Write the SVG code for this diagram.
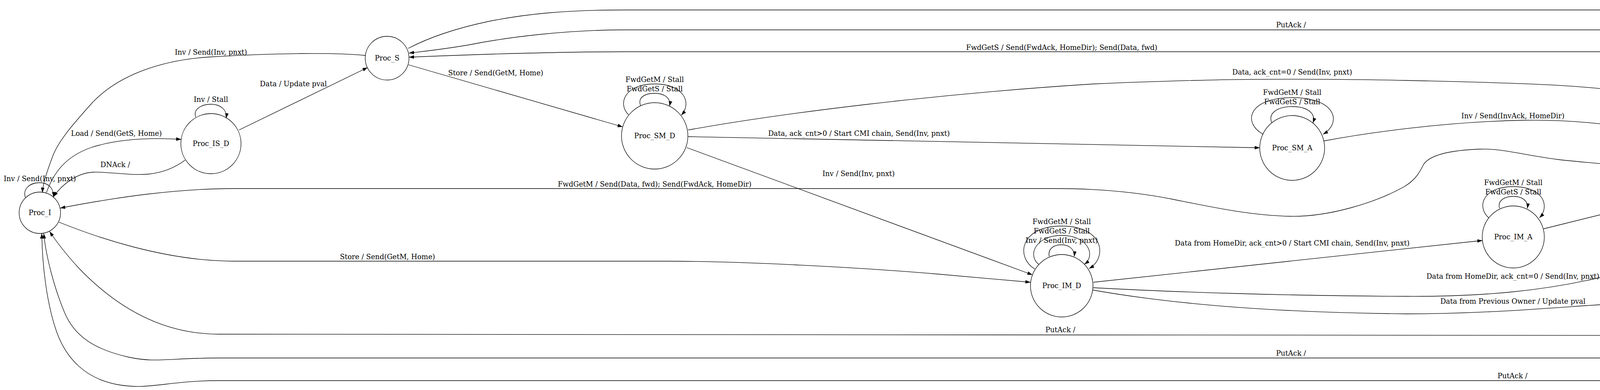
<svg xmlns="http://www.w3.org/2000/svg" width="7164" height="999" viewBox="0 0 7164 999">
<style>
.node circle{fill:none;stroke:#000;stroke-width:1.3}
.edge path{fill:none;stroke:#000;stroke-width:1.3;marker-end:url(#ah)}
text{font-family:"DejaVu Serif","Liberation Serif",serif;font-size:18px;fill:#000;text-anchor:middle}
</style>
<defs>
<marker id="ah" markerUnits="userSpaceOnUse" markerWidth="14" markerHeight="10" viewBox="0 0 14 10" refX="13" refY="4.5" orient="auto"><path d="M0,0 L13,4.5 L0,9 z" fill="#000"/></marker>
</defs>
<rect x="0" y="0" width="7164" height="999" fill="#fff"/>
<g id="nodes">
<g id="Proc_I" class="node"><circle cx="102" cy="545" r="53"/><text x="102" y="551">Proc_I</text></g>
<g id="Proc_IS_D" class="node"><circle cx="540" cy="368" r="77"/><text x="540" y="374">Proc_IS_D</text></g>
<g id="Proc_S" class="node"><circle cx="991" cy="149" r="56"/><text x="991" y="155">Proc_S</text></g>
<g id="Proc_SM_D" class="node"><circle cx="1676" cy="348" r="85"/><text x="1676" y="354">Proc_SM_D</text></g>
<g id="Proc_SM_A" class="node"><circle cx="3308" cy="379" r="83"/><text x="3308" y="385">Proc_SM_A</text></g>
<g id="Proc_IM_D" class="node"><circle cx="2718" cy="732" r="80"/><text x="2718" y="738">Proc_IM_D</text></g>
<g id="Proc_IM_A" class="node"><circle cx="3874" cy="607" r="79.5"/><text x="3874" y="613">Proc_IM_A</text></g>
<g id="Proc_M" class="node"><circle cx="4486" cy="453" r="60"/><text x="4486" y="459">Proc_M</text></g>
<g id="Proc_MS_A" class="node"><circle cx="5080" cy="453" r="83"/><text x="5080" y="459">Proc_MS_A</text></g>
<g id="Proc_MI_A" class="node"><circle cx="5599" cy="601" r="79.5"/><text x="5599" y="607">Proc_MI_A</text></g>
<g id="Proc_SI_A" class="node"><circle cx="6492" cy="601" r="75"/><text x="6492" y="607">Proc_SI_A</text></g>
<g id="Proc_II_A" class="node"><circle cx="7062" cy="721" r="72"/><text x="7062" y="727">Proc_II_A</text></g>
</g>
<g id="connectors">
<g class="edge" id="e_I_I"><path d="M65,506 C58,485 75,468 101,468 C124,468 138,482 137,505"/><text x="102" y="464">Inv / Send(Inv, pnxt)</text></g>
<g class="edge" id="e_I_ISD"><path d="M119,493 C138,440 170,400 233,378 C300,356 380,352 464,357"/><text x="298" y="348">Load / Send(GetS, Home)</text></g>
<g class="edge" id="e_ISD_I"><path d="M474,410 C450,428 420,442 380,446 C330,450 280,440 240,441 C200,442 160,470 137,504"/><text x="295" y="428">DNAck /</text></g>
<g class="edge" id="e_ISD_ISD"><path d="M501,300 C494,280 515,267 540,267 C565,267 582,282 579,303"/><text x="540" y="261">Inv / Stall</text></g>
<g class="edge" id="e_ISD_S"><path d="M612,333 L941,173"/><text x="751" y="221">Data / Update pval</text></g>
<g class="edge" id="e_S_I"><path d="M935,142 C860,134 700,136 536,146 C420,153 300,190 230,270 C190,315 150,360 135,400 C120,440 110,470 108.5,493.5"/><text x="540" y="140">Inv / Send(Inv, pnxt)</text></g>
<g class="edge" id="e_S_SMD"><path d="M1046,166 L1594,325"/><text x="1269" y="193">Store / Send(GetM, Home)</text></g>
<g class="edge" id="e_S_SIA"><path d="M1045,124 C1100,95 1170,72 1250,55 C1350,35 1450,25.5 1600,25.5 L5611,25.5 C5800,25.5 5990,110 6150,255 C6280,375 6380,480 6442,540"/><text x="4264" y="19.5">Evict / Send(PutS, Home)</text></g>
<g class="edge" id="e_MSA_S"><path d="M5027,388 C4960,320 4830,200 4720,135 C4640,92 4580,76.5 4503,76.5 L1600,76.5 C1450,76.5 1300,95 1200,115 C1130,127 1080,132 1047,136"/><text x="3305" y="70">PutAck /</text></g>
<g class="edge" id="e_M_S"><path d="M4473,393 C4455,340 4400,240 4330,190 C4260,145 4200,132.5 4136,132.5 L1600,132.5 C1400,133 1200,140 1047,146.5"/><text x="2718" y="127.5">FwdGetS / Send(FwdAck, HomeDir); Send(Data, fwd)</text></g>
<g class="edge" id="e_SMD_M"><path d="M1762,333 C2000,290 2400,240 2800,215 C3100,202 3300,200 3600,206 C3850,212 4100,215 4250,250 C4350,280 4420,340 4459,397"/><text x="3308" y="191">Data, ack_cnt=0 / Send(Inv, pnxt)</text></g>
<g class="edge" id="e_SMD_SMA"><path d="M1762,350 L3225,378.5"/><text x="2199" y="348">Data, ack_cnt&gt;0 / Start CMI chain, Send(Inv, pnxt)</text></g>
<g class="edge" id="e_SMD_IMD"><path d="M1758,378 L2643,704"/><text x="2198" y="451">Inv / Send(Inv, pnxt)</text></g>
<g class="edge" id="e_SMD_SMD_1"><path d="M1609,294 C1580,265 1600,215 1676,215 C1752,215 1772,265 1744,295"/><text x="1676" y="210">FwdGetM / Stall</text></g>
<g class="edge" id="e_SMD_SMD_2"><path d="M1640,271 C1632,250 1650,239 1676,239 C1702,239 1718,252 1714,272"/><text x="1676" y="233.5">FwdGetS / Stall</text></g>
<g class="edge" id="e_SMA_SMA_1"><path d="M3234,344 C3180,315 3195,250 3308,250 C3421,250 3436,315 3387,344"/><text x="3308" y="243">FwdGetM / Stall</text></g>
<g class="edge" id="e_SMA_SMA_2"><path d="M3256,315 C3245,290 3270,273 3308,273 C3346,273 3370,290 3361,315"/><text x="3308" y="267">FwdGetS / Stall</text></g>
<g class="edge" id="e_SMA_M"><path d="M3389,361 C3500,340 3700,312 3900,308 C4100,305 4300,340 4443,407"/><text x="3873" y="303">Inv / Send(InvAck, HomeDir)</text></g>
<g class="edge" id="e_M_I"><path d="M4426,448 C4250,432 4150,425 4000,410 C3900,398 3850,380 3790,382 C3700,385 3660,400 3645,420 C3635,440 3625,460 3595,478 C3520,520 3400,556 3303,554 C3200,552 3100,530 3000,510 C2900,490 2800,483 2700,483 L600,483 C450,483 300,505 154,533"/><text x="1676" y="477.5">FwdGetM / Send(Data, fwd); Send(FwdAck, HomeDir)</text></g>
<g class="edge" id="e_I_IMD"><path d="M151,569 C240,605 420,669 600,669 L1700,669 C1900,669 2200,685 2400,702 C2500,711 2580,718 2638,723"/><text x="992" y="663.5">Store / Send(GetM, Home)</text></g>
<g class="edge" id="e_IMD_IMD_1"><path d="M2649,689 C2600,660 2610,579 2718,579 C2826,579 2836,660 2788,688"/><text x="2718" y="573.5">FwdGetM / Stall</text></g>
<g class="edge" id="e_IMD_IMD_2"><path d="M2659,677 C2630,655 2650,603 2718,603 C2786,603 2806,655 2776,677"/><text x="2718" y="598">FwdGetS / Stall</text></g>
<g class="edge" id="e_IMD_IMD_3"><path d="M2686,657 C2682,637 2698,627 2717,627 C2738,627 2752,640 2750,657"/><text x="2718" y="622">Inv / Send(Inv, pnxt)</text></g>
<g class="edge" id="e_IMD_IMA"><path d="M2799,723 L3795,616"/><text x="3308" y="629">Data from HomeDir, ack_cnt&gt;0 / Start CMI chain, Send(Inv, pnxt)</text></g>
<g class="edge" id="e_IMD_M_1"><path d="M2799,737 C3000,748 3300,758 3600,759 C3800,760 3950,745 4100,710 C4250,675 4360,575 4447,500"/><text x="3873" y="714">Data from HomeDir, ack_cnt=0 / Send(Inv, pnxt)</text></g>
<g class="edge" id="e_IMD_M_2"><path d="M2798,743 C2950,770 3200,800 3600,804 C3850,804 4050,780 4200,775 C4320,770 4400,740 4440,680 C4470,630 4478,560 4482,513"/><text x="3873" y="777.5">Data from Previous Owner / Update pval</text></g>
<g class="edge" id="e_IMA_IMA_1"><path d="M3811,558 C3780,530 3795,478 3874,478 C3953,478 3968,530 3941,558"/><text x="3874" y="473.6">FwdGetM / Stall</text></g>
<g class="edge" id="e_IMA_IMA_2"><path d="M3839,534 C3833,515 3850,503 3874,503 C3897,503 3913,515 3910,534"/><text x="3874" y="497.8">FwdGetS / Stall</text></g>
<g class="edge" id="e_IMA_M"><path d="M3952,586 L4428,468"/><text x="4264" y="469">Inv / Send(InvAck, HomeDir)</text></g>
<g class="edge" id="e_M_M"><path d="M4445,407 C4438,385 4460,368 4487,368 C4514,368 4531,385 4527,407"/><text x="4486" y="363">Inv / Send(Inv, pnxt)</text></g>
<g class="edge" id="e_M_MSA"><path d="M4547,453 L4997,453"/><text x="4750" y="448">Self-downgrade / Send(PutMS, Home)</text></g>
<g class="edge" id="e_M_MIA"><path d="M4545,472 C4650,505 4800,545 4930,563 C5100,587 5300,600 5520,601"/><text x="5081" y="563">Evict / Send(PutM, Home)</text></g>
<g class="edge" id="e_MSA_MSA_1"><path d="M5028,387 C5015,350 5035,322 5080,322 C5125,322 5145,350 5132,387"/><text x="5080" y="317.5">FwdGetS / Send(Data, fwd)</text></g>
<g class="edge" id="e_MSA_MSA_2"><path d="M5056,373 C5050,357 5063,347 5080,347 C5098,347 5110,357 5106,373"/><text x="5080" y="341">Inv / Send(Inv, pnxt)</text></g>
<g class="edge" id="e_MSA_MIA"><path d="M5161,475 L5523,577"/><text x="5362" y="486">FwdGetM / Send(Data, fwd)</text></g>
<g class="edge" id="e_MIA_MIA"><path d="M5556,535 C5550,512 5570,498 5599,498 C5628,498 5648,512 5644,535"/><text x="5599" y="492.7">Inv / Send(Inv, pnxt)</text></g>
<g class="edge" id="e_MIA_SIA"><path d="M5679,601 L6417,601"/><text x="5957.5" y="595">FwdGetS / Send(FwdAck, HomeDir); Send(Data, fwd)</text></g>
<g class="edge" id="e_MIA_IIA"><path d="M5677,618 C5800,645 6000,690 6200,705 C6450,725 6700,726 6989,724"/><text x="6492" y="705">FwdGetM / Send(Data, fwd); Send(FwdAck, HomeDir)</text></g>
<g class="edge" id="e_SIA_IIA"><path d="M6567,617 L6993,706"/><text x="6868.6" y="656">Inv / Send(Inv, pnxt)</text></g>
<g class="edge" id="e_IIA_IIA"><path d="M7026,675 C7018,645 7038,626 7061,626 C7085,626 7102,640 7098,659"/><text x="7061.5" y="620">Inv / Send(Inv, pnxt)</text></g>
<g class="edge" id="e_MIA_I"><path d="M5539,654 C5460,720 5330,860 5083,860 L560,856 C420,856 300,790 200,685 C170,652 145,620 127,593"/><text x="2714.5" y="851">PutAck /</text></g>
<g class="edge" id="e_SIA_I"><path d="M6421,624 C6300,665 6100,740 5964,815 C5850,880 5750,917 5633,917 L560,917 C430,917 400,930 330,915 C240,895 190,860 165,800 C140,740 118,660 112,598"/><text x="3305" y="910.7">PutAck /</text></g>
<g class="edge" id="e_IIA_I"><path d="M7005,766 C6900,860 6750,975 6500,975 L560,975 C430,975 380,1000 300,985 C220,970 170,920 145,850 C120,780 108,680 107,598"/><text x="3872" y="968.6">PutAck /</text></g>
</g>
</svg>
